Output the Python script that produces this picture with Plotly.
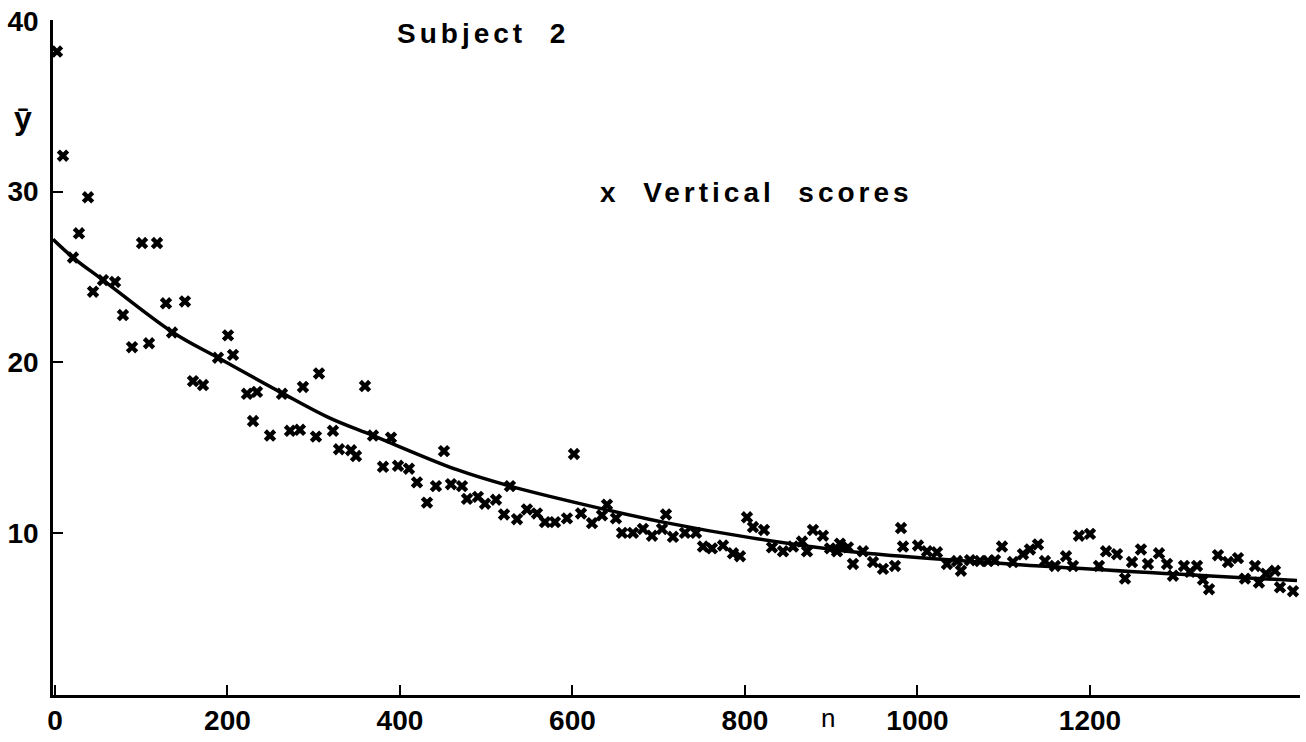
import plotly.graph_objects as go

# Observed mean scores (trial number n, mean score y)
trial_n = [2.3, 9.3, 38.3, 27.8, 100.9, 118.3, 20.9, 44.1, 55.7, 69.6, 78.8, 128.7, 150.7,
           89.3, 109.0, 135.7, 200.6, 206.4, 189.0, 160.0, 171.6, 287.5, 306.1, 222.6, 234.2,
           229.6, 249.3, 263.2, 272.5, 284.0, 302.6, 322.3, 359.4, 368.7, 389.6, 329.3, 343.2,
           349.0, 451.0, 380.3, 397.7, 410.4, 419.7, 441.7, 459.1, 471.9, 431.3, 477.7, 490.4,
           498.6, 511.3, 527.5, 601.7, 520.6, 535.7, 547.2, 558.8, 568.1, 579.7, 593.6, 609.9,
           622.6, 634.2, 640.0, 650.4, 657.4, 670.1, 681.7, 692.2, 703.8, 708.4, 716.5, 730.4,
           743.2, 751.3, 761.7, 774.5, 786.1, 802.3, 794.2, 809.3, 822.0, 831.3, 844.1, 855.7,
           866.1, 871.9, 878.8, 890.4, 898.6, 910.1, 906.7, 919.4, 936.8, 925.2, 948.4, 960.0,
           973.9, 980.9, 983.2, 1000.6, 1011.0, 1022.6, 1034.2, 1045.8, 1050.4, 1060.9, 1072.5,
           1081.7, 1089.9, 1098.0, 1110.7, 1122.3, 1130.4, 1139.7, 1147.8, 1159.4, 1172.2,
           1180.3, 1187.2, 1200.0, 1210.4, 1218.6, 1231.3, 1240.6, 1248.7, 1259.1, 1267.2,
           1280.0, 1289.3, 1296.2, 1309.0, 1315.9, 1324.1, 1331.0, 1338.0, 1348.4, 1360.0,
           1371.6, 1379.7, 1391.3, 1395.9, 1404.0, 1414.5, 1420.3, 1435.4]
vertical_scores = [38.2, 32.1, 29.66, 27.55, 26.98, 26.98, 26.13, 24.13, 24.81, 24.70, 22.76, 23.45,
                   23.56, 20.88, 21.11, 21.74, 21.57, 20.43, 20.26, 18.89, 18.66, 18.55, 19.34,
                   18.15, 18.26, 16.55, 15.70, 18.15, 15.98, 16.04, 15.64, 15.98, 18.60, 15.70,
                   15.58, 14.90, 14.84, 14.50, 14.79, 13.87, 13.93, 13.76, 12.96, 12.74, 12.85,
                   12.74, 11.77, 11.99, 12.11, 11.71, 11.94, 12.74, 14.62, 11.08, 10.80, 11.37,
                   11.14, 10.63, 10.63, 10.85, 11.14, 10.57, 11.03, 11.65, 10.85, 10.00, 10.00,
                   10.23, 9.83, 10.23, 11.08, 9.77, 10.00, 10.00, 9.20, 9.09, 9.26, 8.80, 10.91,
                   8.63, 10.34, 10.17, 9.15, 8.92, 9.20, 9.49, 8.92, 10.17, 9.83, 9.09, 9.37,
                   8.92, 9.15, 8.92, 8.18, 8.29, 7.89, 8.06, 10.28, 9.20, 9.26, 8.92, 8.86, 8.18,
                   8.35, 7.78, 8.40, 8.35, 8.35, 8.40, 9.20, 8.29, 8.75, 9.03, 9.32, 8.35, 8.06,
                   8.63, 8.06, 9.83, 9.94, 8.06, 8.92, 8.75, 7.32, 8.29, 9.03, 8.18, 8.80, 8.18,
                   7.49, 8.06, 7.72, 8.06, 7.26, 6.70, 8.69, 8.29, 8.52, 7.32, 8.06, 7.09, 7.61,
                   7.78, 6.81, 6.58]

# Fitted curve
curve_n = [-2.3, 20.9, 55.7, 136.8, 189.0, 260.9, 318.8, 368.7, 466.0, 527.5, 628.4, 705.0,
           805.8, 929.9, 1142.0, 1440.0]
curve_y = [27.2, 26.13, 24.81, 21.74, 20.26, 18.26, 16.72, 15.70, 13.70, 12.74, 11.48, 10.63,
           9.72, 8.86, 8.06, 7.21]

x_ticks = [0, 200, 400, 600, 800, 1000, 1200]
y_ticks = [10, 20, 30, 40]

FONT = "Liberation Sans"
SPACED = "letter-spacing:4px"

fig = go.Figure()
fig.add_trace(go.Scatter(
    x=curve_n, y=curve_y, mode="lines", line=dict(color="black", width=3.5, shape="spline"),
    hoverinfo="skip", showlegend=False))
fig.add_trace(go.Scatter(
    x=trial_n, y=vertical_scores, mode="markers",
    marker=dict(symbol="x", size=11, color="black", line=dict(width=0)),
    cliponaxis=False, showlegend=False, name="Vertical scores"))

fig.update_layout(
    width=1306, height=742,
    margin=dict(l=53, r=6, t=16, b=32),
    paper_bgcolor="white", plot_bgcolor="white",
    font=dict(family=FONT, color="black"),
    xaxis=dict(range=[-2.3, 1443.5], tickvals=x_ticks,
               ticktext=[str(v) for v in x_ticks],
               showline=True, linecolor="black", linewidth=3,
               ticks="inside", ticklen=10, tickwidth=1.5, tickcolor="black",
               showgrid=False, zeroline=False, ticklabelstandoff=-2,
               tickfont=dict(family=FONT, size=28, color="black", weight="bold")),
    yaxis=dict(range=[0.5, 40.05], tickvals=y_ticks,
               showline=True, linecolor="black", linewidth=2.5,
               ticks="inside", ticklen=10, tickwidth=2, tickcolor="black",
               showgrid=False, zeroline=False, ticklabelstandoff=6,
               tickfont=dict(family=FONT, size=28, color="black", weight="bold")),
    annotations=[
        dict(text=f'<span style="{SPACED}">Subject  2</span>', xref="paper", yref="paper",
             x=(395 - 53) / 1247, y=1.0, yshift=4,
             xanchor="left", yanchor="top", showarrow=False,
             font=dict(family=FONT, size=28, color="black", weight="bold")),
        dict(text=f'<span style="{SPACED}">x  Vertical  scores</span>', xref="paper", yref="paper",
             x=(598 - 53) / 1247, y=(710 - 193) / 694,
             xanchor="left", yanchor="middle", showarrow=False,
             font=dict(family=FONT, size=28, color="black", weight="bold")),
        dict(text="ȳ", xref="paper", yref="paper", x=0, y=(710 - 117) / 694, xshift=-30,
             xanchor="center", yanchor="middle", showarrow=False,
             font=dict(family=FONT, size=32, color="black", weight="bold")),
        dict(text="n", xref="x", yref="paper", x=896, y=0, yshift=-6,
             xanchor="center", yanchor="top", showarrow=False,
             font=dict(family=FONT, size=26, color="black")),
    ],
)

fig.write_html("out.html")
